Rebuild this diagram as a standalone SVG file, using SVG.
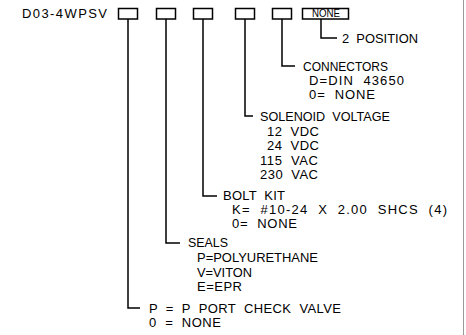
<svg xmlns="http://www.w3.org/2000/svg" width="466" height="335" viewBox="0 0 466 335">
<style>
text{font-family:"Liberation Sans",Arial,sans-serif;font-size:13px;fill:#000;white-space:pre}
.small{font-size:10.5px}
.box{fill:none;stroke:#000;stroke-width:1.5}
.ln{fill:none;stroke:#000;stroke-width:1.5}
</style>
<rect width="466" height="335" fill="#fff"/>
<line x1="463.5" y1="0" x2="463.5" y2="335" stroke="#9a9a9a" stroke-width="1"/>
<g id="model">
<text x="22" y="18" textLength="85" lengthAdjust="spacing">D03-4WPSV</text>
</g>
<g id="boxes">
<rect class="box" x="118.5" y="8.5" width="19" height="10.5"/>
<rect class="box" x="156.5" y="8.5" width="19" height="10.5"/>
<rect class="box" x="193.5" y="8.5" width="19" height="10.5"/>
<rect class="box" x="235.5" y="8.5" width="19" height="10.5"/>
<rect class="box" x="272.5" y="8.5" width="19" height="10.5"/>
<rect class="box" x="302.5" y="8.5" width="46" height="10.5"/>
<text class="small" x="312" y="17" textLength="28" lengthAdjust="spacingAndGlyphs">NONE</text>
</g>
<g id="connectors">
<polyline class="ln" points="321,19 321,38 337,38"/>
<polyline class="ln" points="282,19 282,66 295,66"/>
<polyline class="ln" points="245,19 245,116 253,116"/>
<polyline class="ln" points="203,19 203,196 217,196"/>
<polyline class="ln" points="166,19 166,243 180,243"/>
<polyline class="ln" points="128,19 128,308 140,308"/>
</g>
<g id="position">
<text x="342" y="43" textLength="76" lengthAdjust="spacingAndGlyphs">2  POSITION</text>
</g>
<g id="connectors-option">
<text x="303" y="71" textLength="85" lengthAdjust="spacingAndGlyphs">CONNECTORS</text>
<text x="309" y="85" textLength="95" lengthAdjust="spacing">D=DIN  43650</text>
<text x="309" y="99" textLength="66" lengthAdjust="spacing">0=  NONE</text>
</g>
<g id="solenoid-voltage">
<text x="260" y="121" textLength="130" lengthAdjust="spacingAndGlyphs">SOLENOID  VOLTAGE</text>
<text x="267" y="136" textLength="52" lengthAdjust="spacing">12  VDC</text>
<text x="267" y="150" textLength="52" lengthAdjust="spacing">24  VDC</text>
<text x="260" y="165" textLength="58" lengthAdjust="spacing">115  VAC</text>
<text x="260" y="179" textLength="58" lengthAdjust="spacing">230  VAC</text>
</g>
<g id="bolt-kit">
<text x="223" y="200" textLength="62" lengthAdjust="spacing">BOLT  KIT</text>
<text x="232" y="214" textLength="215" lengthAdjust="spacing">K=  #10-24  X  2.00  SHCS  (4)</text>
<text x="232" y="228" textLength="65" lengthAdjust="spacing">0=  NONE</text>
</g>
<g id="seals">
<text x="188" y="247" textLength="40" lengthAdjust="spacingAndGlyphs">SEALS</text>
<text x="197" y="262" textLength="121" lengthAdjust="spacingAndGlyphs">P=POLYURETHANE</text>
<text x="197" y="277" textLength="55" lengthAdjust="spacingAndGlyphs">V=VITON</text>
<text x="197" y="291" textLength="45" lengthAdjust="spacing">E=EPR</text>
</g>
<g id="check-valve">
<text x="149" y="313" textLength="192" lengthAdjust="spacing">P  =  P  PORT  CHECK  VALVE</text>
<text x="149" y="327" textLength="72" lengthAdjust="spacing">0  =  NONE</text>
</g>
</svg>
